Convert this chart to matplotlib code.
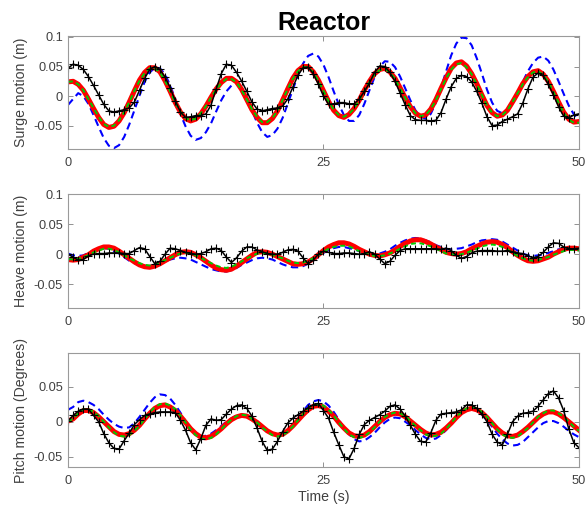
import numpy as np
import matplotlib
matplotlib.use("Agg")
import matplotlib.pyplot as plt

plt.rcParams['font.family'] = ['Liberation Sans', 'DejaVu Sans']
plt.rcParams['axes.unicode_minus'] = False

# time base, 0.5 s sampling
t = np.arange(0, 50.5, 0.5)

# all values below in 1e-3 units (m or degrees)
surge_exp = [47, 54, 52, 45, 33, 18, 2, -14, -25,
             -27, -25, -23, -20, -10, 10, 30, 45,
             50, 45, 32, 14, -8, -27, -36, -35,
             -33, -33, -30, -15, 12, 38, 54,
             52, 40, 25, 8, -10, -22, -25,
             -23, -21, -20, -17, -5, 15, 35, 48,
             49, 38, 20, 0, -14, -13, -11, -11,
             -13, -13, -5, 8, 22, 40, 51,
             50, 40, 25, 5, -15, -33, -40, -41,
             -41, -42, -41, -28, -5, 16, 30,
             35, 33, 24, 8, -12, -35, -50, -49,
             -43, -39, -35, -30, -12, 12, 32,
             39, 35, 20, 2, -18, -34, -37, -32, -30]
surge_b = [-15, -5, 5, 0, -13, -32, -52, -71, -84,
           -88, -83, -69, -48, -24, 1, 24, 40,
           48, 47, 37, 18, -5, -30, -51, -67,
           -74, -71, -61, -46, -26, -7, 8,
           18, 21, 13, -3, -24, -45, -61,
           -69, -66, -55, -37, -13, 11, 35, 55,
           68, 72, 67, 53, 32, 8, -14, -32,
           -42, -42, -32, -13, 10, 32, 50,
           59, 58, 49, 33, 13, -7, -24, -35,
           -38, -30, -11, 14, 42, 69, 89,
           99, 98, 86, 64, 38, 11, -11, -25,
           -29, -24, -12, 5, 24, 42, 56,
           65, 67, 60, 45, 25, 4, -16, -31, -39]
surge_r = [24, 25, 20, 10, -5, -21, -36, -48, -53,
           -51, -42, -28, -10, 9, 27, 40, 48,
           48, 41, 26, 8, -11, -27, -38, -42,
           -39, -30, -17, -2, 12, 23, 30,
           30, 24, 11, -6, -23, -36, -45,
           -45, -38, -25, -7, 12, 30, 43, 50,
           50, 41, 27, 9, -9, -24, -33, -36,
           -31, -21, -7, 10, 25, 38, 45,
           47, 41, 30, 14, -3, -18, -29, -34,
           -32, -22, -6, 13, 31, 47, 56,
           58, 51, 38, 21, 2, -16, -28, -34,
           -32, -24, -10, 5, 21, 33, 41,
           43, 37, 25, 8, -10, -27, -39, -44, -43]
surge_g = [24, 25, 20, 10, -5, -20, -35, -47, -52,
           -50, -41, -27, -10, 9, 26, 39, 47,
           47, 40, 26, 8, -11, -26, -37, -41,
           -38, -29, -17, -2, 11, 22, 29,
           29, 23, 10, -6, -22, -35, -44,
           -44, -37, -25, -7, 12, 29, 42, 49,
           49, 40, 26, 9, -9, -23, -32, -35,
           -30, -21, -7, 9, 24, 37, 44,
           46, 40, 29, 13, -3, -18, -29, -34,
           -32, -22, -7, 12, 30, 45, 54,
           56, 49, 37, 20, 2, -16, -28, -34,
           -32, -24, -10, 5, 20, 32, 40,
           42, 36, 24, 7, -11, -28, -40, -45, -45]

heave_exp = [0, -5, -10, -9, -3, 0, 1, 1, 2,
             2, 2, 1, 1, 6, 11, 9, -4,
             -16, -12, 0, 10, 9, 6, 3, 1,
             0, 1, 4, 9, 10, 6, -5,
             -14, -6, 5, 12, 12, 7, 4,
             1, 0, 0, 3, 7, 8, 5, -6,
             -16, -10, 0, 5, 3, 1, 1, 2,
             2, 1, 0, 1, 4, 0, -8,
             -16, -12, -2, 6, 9, 9, 9, 9,
             9, 9, 9, 8, 10, 6, -2,
             -7, -4, 2, 5, 6, 6, 6, 5,
             5, 6, 4, 2, 1, -3, -6,
             -4, 3, 12, 19, 18, 12, 9, 9, 10]
heave_b = [1, -2, -3, -2, 2, 6, 9, 10, 9,
           5, 1, -5, -11, -15, -19, -20, -20,
           -18, -15, -12, -9, -7, -6, -7, -9,
           -13, -17, -21, -25, -27, -29, -29,
           -27, -23, -18, -14, -10, -7, -6,
           -7, -9, -13, -17, -20, -22, -22, -20,
           -16, -11, -4, 2, 7, 10, 12, 12,
           10, 8, 5, 2, 1, 0, 1,
           4, 8, 14, 19, 23, 26, 27, 26,
           23, 20, 15, 12, 9, 8, 9,
           10, 13, 16, 20, 23, 24, 25, 24,
           21, 16, 11, 6, 1, -2, -3,
           -2, -1, 2, 5, 8, 9, 10, 10, 9]
heave_r = [-9, -10, -9, -5, -1, 5, 9, 12, 12,
           10, 5, -1, -7, -13, -18, -21, -22,
           -20, -16, -11, -6, -1, 3, 4, 3,
           -1, -6, -12, -18, -23, -26, -27,
           -25, -20, -14, -8, -2, 3, 4,
           3, 0, -4, -8, -12, -16, -17, -16,
           -13, -8, -1, 6, 12, 16, 19, 19,
           17, 13, 8, 4, 0, -2, -3,
           -1, 2, 7, 13, 18, 22, 24, 24,
           21, 17, 12, 8, 3, 1, 0,
           1, 4, 9, 13, 17, 20, 21, 20,
           16, 11, 4, -2, -7, -11, -12,
           -11, -8, -5, 0, 4, 8, 10, 10, 9]
heave_g = [-8, -9, -8, -5, -2, 3, 6, 9, 9,
           7, 3, -2, -7, -11, -15, -18, -19,
           -17, -14, -10, -6, -2, 1, 2, 1,
           -2, -6, -11, -15, -19, -22, -23,
           -21, -17, -12, -7, -3, 1, 2,
           1, -1, -4, -7, -11, -14, -15, -14,
           -11, -7, -2, 4, 9, 12, 14, 14,
           13, 9, 5, 2, -1, -3, -3,
           -2, 1, 5, 9, 13, 17, 18, 18,
           16, 13, 9, 5, 1, 0, -1,
           0, 2, 6, 9, 13, 15, 16, 15,
           12, 8, 2, -3, -7, -10, -11,
           -10, -7, -5, -1, 2, 5, 7, 7, 6]

pitch_exp = [1, 9, 15, 18, 18, 9, 0, -17, -30,
             -38, -39, -27, -16, -4, 3, 9, 11,
             13, 14, 14, 14, 13, 2, -12, -30,
             -40, -24, -5, 4, 2, 3, 11,
             18, 23, 24, 19, 8, -9, -28,
             -41, -39, -28, -14, -2, 5, 10, 15,
             20, 24, 26, 16, 5, -15, -33, -50,
             -53, -38, -18, -4, 2, 6, 10,
             15, 22, 24, 18, 8, -5, -18, -28,
             -29, -16, 2, 11, 12, 13, 14,
             17, 24, 24, 19, 11, 0, -18, -29,
             -33, -18, 0, 8, 12, 13, 15,
             22, 31, 40, 44, 34, 16, -10, -30, -37]
pitch_b = [17, 21, 28, 30, 28, 24, 18, 10, 3,
           -3, -7, -9, -8, -2, 7, 17, 27,
           35, 39, 38, 33, 24, 13, 1, -10,
           -18, -21, -20, -17, -12, -6, 0,
           5, 9, 10, 9, 5, -1, -7,
           -13, -17, -19, -18, -13, -4, 5, 15,
           24, 29, 31, 29, 23, 14, 3, -9,
           -18, -25, -28, -27, -22, -16, -8,
           -1, 4, 6, 5, 0, -5, -12, -18,
           -23, -25, -24, -19, -12, -3, 6,
           13, 18, 19, 16, 10, 2, -7, -17,
           -25, -31, -34, -33, -29, -22, -15,
           -8, -2, 1, 1, -2, -7, -13, -18, -22]
pitch_r = [1, 4, 11, 16, 16, 13, 7, 0, -7,
           -14, -18, -19, -17, -12, -5, 4, 12,
           19, 23, 24, 21, 16, 8, -1, -10,
           -17, -22, -23, -21, -16, -10, -3,
           3, 7, 9, 8, 4, -1, -7,
           -13, -17, -19, -18, -13, -6, 2, 10,
           17, 22, 23, 21, 15, 8, -1, -9,
           -16, -20, -21, -19, -14, -7, 0,
           6, 10, 12, 11, 7, 1, -5, -11,
           -16, -19, -18, -15, -9, -2, 6,
           13, 17, 19, 17, 13, 6, -2, -10,
           -16, -20, -21, -19, -14, -8, -1,
           6, 11, 14, 14, 11, 6, 0, -6, -12]
pitch_g = [1, 4, 12, 18, 18, 14, 8, 0, -8,
           -15, -20, -21, -19, -13, -6, 4, 13,
           21, 25, 26, 23, 18, 9, -1, -11,
           -19, -24, -25, -23, -18, -11, -3,
           3, 8, 10, 9, 4, -1, -8,
           -14, -19, -21, -20, -14, -7, 2, 11,
           19, 24, 25, 23, 17, 9, -1, -10,
           -18, -22, -23, -21, -15, -8, 0,
           7, 11, 13, 12, 8, 1, -6, -12,
           -18, -21, -20, -17, -10, -2, 7,
           14, 19, 21, 19, 14, 7, -2, -11,
           -18, -22, -23, -21, -15, -9, -1,
           7, 12, 16, 16, 12, 7, 0, -7, -13]

panels = [
    ("Surge motion (m)", surge_exp, surge_b, surge_r, surge_g,
     (-0.09, 0.1025), [-0.05, 0, 0.05, 0.1], ["-0.05", "0", "0.05", "0.1"]),
    ("Heave motion (m)", heave_exp, heave_b, heave_r, heave_g,
     (-0.0905, 0.1), [-0.05, 0, 0.05, 0.1], ["-0.05", "0", "0.05", "0.1"]),
    ("Pitch motion (Degrees)", pitch_exp, pitch_b, pitch_r, pitch_g,
     (-0.065, 0.098), [-0.05, 0, 0.05], ["-0.05", "0", "0.05"]),
]
rects = [[0.116, 0.7061, 0.872, 0.224],
         [0.116, 0.3931, 0.872, 0.2244],
         [0.116, 0.0801, 0.872, 0.225]]

fig = plt.figure(figsize=(5.86, 5.08), dpi=100)
axs = []
for rect, (lab, e, b, r, g, yl, yt, ytl) in zip(rects, panels):
    ax = fig.add_axes(rect)
    ax.plot(t, np.array(b) / 1000, '--', color='#0000ff', lw=1.5, dashes=(3.5, 2.2))
    ax.plot(t, np.array(r) / 1000, '-', color='#ff0000', lw=3.6)
    ax.plot(t, np.array(g) / 1000, '--', color='#00cc00', lw=1.4, dashes=(2.5, 1.8))
    ax.plot(t, np.array(e) / 1000, '-', color='black', lw=1.1,
            marker='+', ms=6, mew=0.8)
    ax.set_xlim(0, 50)
    ax.set_ylim(*yl)
    ax.set_xticks([0, 25, 50])
    ax.set_xticklabels(["0", "25", "50"])
    ax.set_yticks(yt)
    ax.set_yticklabels(ytl)
    ax.tick_params(direction='in', top=True, right=True, length=3.5,
                   width=0.6, color='#808080', labelcolor='#404040',
                   labelsize=9.2)
    ax.tick_params(axis='y', pad=3.5)
    ax.tick_params(axis='x', pad=5.5)
    for s in ax.spines.values():
        s.set_color('#9a9a9a')
        s.set_linewidth(0.8)
    ax.set_ylabel(lab, fontsize=10.2, color='#404040')
    ax.yaxis.set_label_coords(-0.079, 0.5)
    axs.append(ax)

axs[0].set_title("Reactor", fontsize=18, fontweight='bold', pad=4)
axs[2].set_xlabel("Time (s)", fontsize=10.2, color='#404040')
axs[2].xaxis.set_label_coords(0.5, -0.195)

fig.savefig("out.png", dpi=100)
